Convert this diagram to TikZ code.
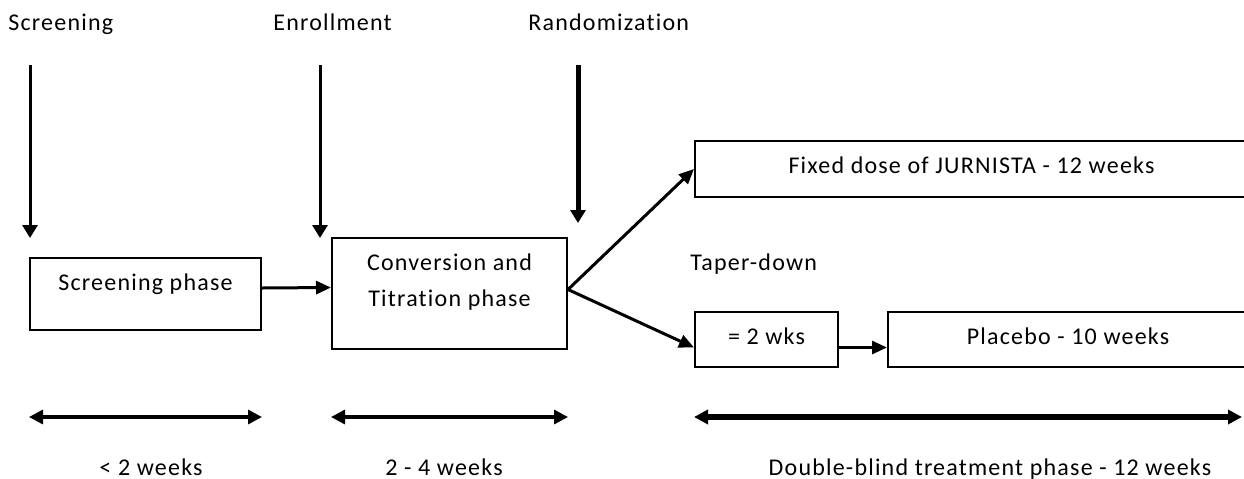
\documentclass[tikz,border=0pt]{standalone}
\usepackage{fontspec}
\setmainfont{Carlito}[LetterSpace=5, Ligatures={NoCommon,NoContextual}]
\usetikzlibrary{arrows.meta,positioning}
\tikzset{
  phase/.style={rectangle, draw=black, line width=1pt, inner sep=0pt, align=center,
                font=\fontsize{12}{18}\selectfont, text height=8pt, text depth=3.5pt},
  toptext/.style={text depth=#1},
  milestone/.style={font=\fontsize{12}{14}\selectfont, anchor=base west, inner sep=0pt},
  duration/.style={font=\fontsize{12}{14}\selectfont, anchor=base, inner sep=0pt},
  eventarrow/.style={-{Triangle[length=6.5pt,width=7.5pt]}, line width=1.5pt},
  flow/.style={-{Triangle[length=7.5pt,width=6.5pt]}, line width=1.5pt},
  span/.style={{Triangle[length=7pt,width=7pt]}-{Triangle[length=7pt,width=7pt]}, line width=1.6pt},
}
\begin{document}
\begin{tikzpicture}[x=0.5pt, y=-0.5pt]
\useasboundingbox (0,0) rectangle (1244,478);

% Milestones
\node[milestone] (screening) at (8,30) {Screening};
\node[milestone] (enrollment) at (273,30) {Enrollment};
\node[milestone] (randomization) at (528,30) {Randomization};

\coordinate (screening start) at (30,65);
\coordinate (screening end) at (30,238);
\coordinate (enrollment start) at (320,65);
\coordinate (enrollment end) at (320,238);
\coordinate (randomization start) at (578,65);
\coordinate (randomization end) at (578,223);

\draw[eventarrow] (screening start) -- (screening end);
\draw[eventarrow] (enrollment start) -- (enrollment end);
\draw[eventarrow, line width=2.5pt] (randomization start) -- (randomization end);

% Phases
\node[phase, toptext=11.3pt, minimum width=115.5pt, minimum height=36pt] (scr) at (145.5,294) {Screening phase};
\node[phase, text height=26pt, toptext=13.5pt, minimum width=117.5pt, minimum height=55.5pt] (conv) at (449.5,293.5) {Conversion and\\Titration phase};
\node[phase, minimum width=276.5pt, minimum height=28pt] (fixed) at (971.5,169) {Fixed dose of JURNISTA - 12 weeks};
\node[milestone] (taper) at (690,270) {Taper-down};
\node[phase, minimum width=71.5pt, minimum height=27.5pt] (wks) at (766.5,339.5) {= 2 wks};
\node[phase, minimum width=180pt, minimum height=27.5pt] (placebo) at (1068,339.5) {Placebo - 10 weeks};

% Flow
\draw[flow] ([yshift=3pt]scr.east) -- ([yshift=3pt]conv.west);
\draw[flow] ([yshift=2pt]conv.east) -- (fixed.west);
\draw[flow] ([yshift=2pt]conv.east) -- ([yshift=-4pt]wks.west);
\draw[flow] ([yshift=-4pt]wks.east) -- ([yshift=-4pt]placebo.west);

% Durations
\draw[span] (scr.west |- 0,417) -- (scr.east |- 0,417);
\draw[span] (conv.west |- 0,417) -- (conv.east |- 0,417);
\draw[span, line width=2.8pt] (fixed.west |- 0,417) -- (1242,417);

\node[duration] (screen dur) at (151,475) {< 2 weeks};
\node[duration] (conv dur) at (444,475) {2 - 4 weeks};
\node[duration] (blind dur) at (990,475) {Double-blind treatment phase - 12 weeks};
\end{tikzpicture}
\end{document}
